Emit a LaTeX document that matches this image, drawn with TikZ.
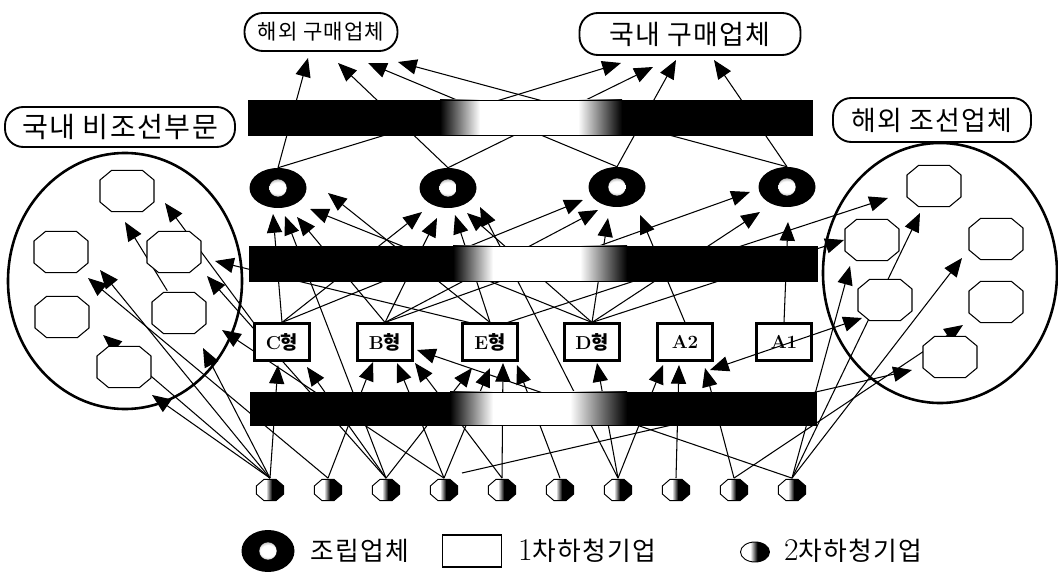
\documentclass[tikz,border=0pt]{standalone}
\usepackage{fontspec}
\newfontfamily\kr{Noto Sans CJK KR}
\newfontfamily\krw[LetterSpace=5]{Noto Sans CJK KR}
\usetikzlibrary{shapes.geometric,arrows.meta,calc}
\pgfdeclarelayer{bg}
\pgfdeclarelayer{lines}
\pgfdeclarelayer{bars}
\pgfsetlayers{bg,lines,bars,main}
\pgfdeclareradialshading{glow}{\pgfpointorigin}{color(0bp)=(white); color(7bp)=(white); color(22bp)=(black); color(50bp)=(black)}

\tikzset{
  bighead/.tip={Triangle[length=16pt,width=13pt]},
  conn/.style={line width=0.9pt,-bighead},
  twoway/.style={line width=0.9pt,bighead-bighead},
  asm/.style={ellipse,fill=black,inner sep=0pt,minimum width=1.71cm,minimum height=1.2cm,
    path picture={\shade[shading=glow] (path picture bounding box.center) circle (0.26cm);}},
  tierone/.style={draw,line width=1.8pt,fill=white,inner sep=0pt,minimum width=1.65cm,minimum height=1.11cm,
    font=\fontsize{16}{18}\selectfont\bfseries},
  % small octagon, white on the left and dark on the right
  tiertwo/.style={inner sep=0pt,minimum width=0.88cm,minimum height=0.7cm,
    path picture={
      \begin{scope}[shift={(path picture bounding box.center)}]
        \begin{scope}
          \clip (-0.18cm,0.32cm) -- (0.18cm,0.32cm) -- (0.41cm,0.12cm) -- (0.41cm,-0.12cm) -- (0.18cm,-0.32cm)
            -- (-0.18cm,-0.32cm) -- (-0.41cm,-0.12cm) -- (-0.41cm,0.12cm) -- cycle;
          \fill[white] (-0.45cm,-0.35cm) rectangle (0.45cm,0.35cm);
          \fill[black] (0.06cm,-0.35cm) rectangle (0.45cm,0.35cm);
          \shade[left color=white,right color=black] (-0.12cm,-0.35cm) rectangle (0.06cm,0.35cm);
        \end{scope}
        \draw[line width=0.8pt] (-0.18cm,0.32cm) -- (0.18cm,0.32cm) -- (0.41cm,0.12cm) -- (0.41cm,-0.12cm) -- (0.18cm,-0.32cm)
            -- (-0.18cm,-0.32cm) -- (-0.41cm,-0.12cm) -- (-0.41cm,0.12cm) -- cycle;
      \end{scope}}},
  % octagon member of a sector group
  oct/.style={inner sep=0pt,minimum width=1.7cm,minimum height=1.32cm,
    path picture={
      \draw[line width=0.9pt,fill=white,shift={(path picture bounding box.center)}]
        (-0.46cm,0.62cm) -- (0.46cm,0.62cm) -- (0.81cm,0.33cm) -- (0.81cm,-0.33cm) -- (0.46cm,-0.62cm)
        -- (-0.46cm,-0.62cm) -- (-0.81cm,-0.33cm) -- (-0.81cm,0.33cm) -- cycle;}},
  group/.style={ellipse,draw,line width=2.2pt,inner sep=0pt},
  tag/.style={draw,line width=1.6pt,rounded corners=0.55cm,fill=white,inner sep=0pt},
  legendtext/.style={anchor=west,font=\krw\fontsize{22}{25}\selectfont},
}

\newcommand{\gradbar}[8]{%
  \fill[black] (#1,#3) rectangle (#5,#4);
  \shade[left color=black,right color=white] (#5,#3) rectangle (#6,#4);
  \fill[white] (#6,#3) rectangle (#7,#4);
  \shade[left color=white,right color=black] (#7,#3) rectangle (#8,#4);
  \fill[black] (#8,#3) rectangle (#2,#4);
  \draw[line width=0.8pt] (#1,#3) rectangle (#2,#4);}
\newcommand{\bigdigit}[1]{{\rmfamily\fontsize{27}{28}\selectfont #1}}

\begin{document}
\begin{tikzpicture}[x=0.03cm,y=-0.03cm]
\begin{pgfonlayer}{bg}
  \fill[white] (0,0) rectangle (1058,572);
\end{pgfonlayer}
\useasboundingbox (0,0) rectangle (1058,572);

% buyers and sector labels
\node[tag,minimum width=4.59cm,minimum height=1.14cm,font=\krw\fontsize{18}{21}\selectfont] (hb) at (321,32) {해외 구매업체};
\node[tag,minimum width=6.63cm,minimum height=1.26cm,font=\krw\fontsize{23}{26}\selectfont] (kb) at (690,34) {국내 구매업체};

% sector groups
\node[group,minimum width=7.02cm,minimum height=7.68cm] (lc) at (125,281) {};
\node[group,minimum width=7.02cm,minimum height=7.8cm] (rc) at (940,273) {};
\node[tag,minimum width=6.9cm,minimum height=1.2cm,font=\krw\fontsize{24}{27}\selectfont] (ld) at (120,127) {국내 비조선부문};
\node[tag,minimum width=5.94cm,minimum height=1.32cm,font=\krw\fontsize{23}{26}\selectfont] (rd) at (932,120) {해외 조선업체};

\node[oct] (l1) at (127,191) {};
\node[oct] (l2) at (61,252) {};
\node[oct] (l3) at (174,252) {};
\node[oct] (l4) at (62,317) {};
\node[oct] (l5) at (179,313) {};
\node[oct] (l6) at (124,367) {};

\node[oct] (r1) at (934,186) {};
\node[oct] (r2) at (872,240) {};
\node[oct] (r3) at (996,239) {};
\node[oct] (r4) at (885,300) {};
\node[oct] (r5) at (996,302) {};
\node[oct] (r6) at (950,357) {};

% assemblers
\node[asm] (e1) at (278,188) {};
\node[asm] (e2) at (448,188) {};
\node[asm] (e3) at (617,187) {};
\node[asm] (e4) at (787,187) {};

% first-tier suppliers
\node[tierone] (c)  at (282,342) {C{\kr 형}};
\node[tierone] (b)  at (385,342) {B{\kr 형}};
\node[tierone] (eb) at (490,342) {E{\kr 형}};
\node[tierone] (d)  at (592,342) {D{\kr 형}};
\node[tierone] (a2) at (685,342) {A2};
\node[tierone] (a1) at (784,342) {A1};

% second-tier suppliers
\foreach \i in {1,...,10}
  \node[tiertwo] (n\i) at ({270+58*(\i-1)},490) {};

\coordinate (f1) at (462,473);

% connectors
\begin{pgfonlayer}{lines}
  % assemblers to buyers
  \draw[conn] (e1.north) -- ($(hb)+(-13,26)$);
  \draw[conn] (e2.north) -- ($(hb)+(17,31)$);
  \draw[conn] (e3.north) -- ($(hb)+(47,31)$);
  \draw[conn] (e4.north) -- ($(hb)+(77,30)$);
  \draw[conn] (e1.north) -- ($(kb)+(-69,29)$);
  \draw[conn] (e2.north) -- ($(kb)+(-37,33)$);
  \draw[conn] (e3.north) -- ($(kb)+(-14,26)$);
  \draw[conn] (e4.north) -- ($(kb)+(24,26)$);
  % first tier to assemblers
  \draw[conn] (c.north)  -- ($(e1)+(-5,26)$);
  \draw[conn] (n3.north) -- ($(e1)+(7,28)$);
  \draw[conn] (b.north)  -- ($(e1)+(19,29)$);
  \draw[conn] (d.north)  -- ($(e1)+(32,21)$);
  \draw[conn] (eb.north) -- ($(e1)+(50,5)$);
  \draw[conn] (c.north)  -- ($(e2)+(-26,24)$);
  \draw[conn] (b.north)  -- ($(e2)+(-11,30)$);
  \draw[conn] (eb.north) -- ($(e2)+(7,27)$);
  \draw[conn] (d.north)  -- ($(e2)+(19,25)$);
  \draw[conn] (n7.north) -- ($(e2)+(32,19)$);
  \draw[conn] (c.north)  -- ($(e3)+(-34,13)$);
  \draw[conn] (b.north)  -- ($(e3)+(-19,23)$);
  \draw[conn] (d.north)  -- ($(e3)+(-9,31)$);
  \draw[conn] (a2.north) -- ($(e3)+(23,28)$);
  \draw[conn] (b.north)  -- ($(e4)+(-37,5)$);
  \draw[conn] (d.north)  -- ($(e4)+(-27,25)$);
  \draw[conn] (a1.north) -- ($(e4)+(1,35)$);
  % domestic non-shipbuilding
  \draw[conn] (c.north west) -- ($(l1)+(38,12)$);
  \draw[conn] ([xshift=-10]l5.north) -- ($(l1)+(-2,31)$);
  \draw[conn] ([xshift=-18]eb.north) -- ($(l3)+(41,9)$);
  \draw[conn] (n3.north) -- ($(l3)+(33,24)$);
  \draw[conn] (n4.north) -- ($(l5)+(43,17)$);
  \draw[conn] (n1.north) -- ($(l5)+(24,35)$);
  \draw[conn] (n2.north) -- ($(l2)+(27,26)$);
  \draw[conn] (n1.north) -- ($(l2)+(39,18)$);
  \draw[conn] (n1.north) -- ($(l4)+(41,18)$);
  \draw[conn] (n1.north) -- ($(l6)+(28,28)$);
  % second tier to first tier
  \draw[conn] (n1.north) -- ($(c)+(-4,23)$);
  \draw[conn] (n3.north) -- ($(c)+(25,25)$);
  \draw[conn] (n2.north) -- ($(b)+(-12,20)$);
  \draw[conn] (n4.north) -- ($(b)+(12,21)$);
  \draw[conn] (n5.north) -- ($(b)+(30,21)$);
  \draw[conn] (n10.north) -- ($(b)+(32,8)$);
  \draw[conn] (n3.north) -- ($(eb)+(-18,26)$);
  \draw[conn] (n4.north) -- ($(eb)+(0,26)$);
  \draw[conn] (n5.north) -- ($(eb)+(13,21)$);
  \draw[conn] (n6.north) -- ($(eb)+(27,23)$);
  \draw[conn] (n7.north) -- ($(d)+(5,21)$);
  \draw[conn] (n7.north) -- ($(a2)+(-22,23)$);
  \draw[conn] (n8.north) -- ($(a2)+(-6,23)$);
  \draw[conn] (n9.north) -- ($(a2)+(20,26)$);
  % overseas shipbuilders
  \draw[conn] ([xshift=15]eb.north) -- ($(r1)+(-46,12)$);
  \draw[conn] (d.north) -- ($(r2)+(-28,0)$);
  \draw[conn] (n10.north) -- ($(r1)+(-14,27)$);
  \draw[conn] (n10.north) -- ($(r2)+(-22,26)$);
  \draw[conn] (n10.north) -- ($(r3)+(-34,19)$);
  \draw[conn] (n9.north) -- ($(r5)+(-33,23)$);
  \draw[conn] (f1) -- ($(r6)+(-38,13)$);
\end{pgfonlayer}

% shaded bands
\begin{pgfonlayer}{bars}
  \gradbar{248}{812}{100}{135}{440}{480}{578}{622}
  \gradbar{249}{817}{246}{281}{453}{493}{580}{627}
  \gradbar{250}{816}{392}{425}{450}{493}{570}{627}
\end{pgfonlayer}

\draw[twoway] ($(a2)+(25,28)$) -- ($(r4)+(-23,18)$);

% legend
\node[asm,minimum width=1.59cm,minimum height=1.26cm] (lg1) at (268,551) {};
\node[legendtext] (lg1t) at (306,551) {조립업체};
\node[draw,line width=1.6pt,minimum width=1.77cm,minimum height=0.96cm,inner sep=0pt] (lg2) at (472,551) {};
\node[legendtext] (lg2t) at (514,551) {\bigdigit{1}\krw 차하청기업};
\node[ellipse,draw,line width=0.8pt,inner sep=0pt,minimum width=0.87cm,minimum height=0.6cm,
  path picture={\fill[white] (path picture bounding box.south west) rectangle (path picture bounding box.north east);
    \fill[black] ([xshift=2pt]path picture bounding box.south) rectangle (path picture bounding box.north east);
    \shade[left color=white,right color=black] ([xshift=-4pt]path picture bounding box.south) rectangle ([xshift=2pt]path picture bounding box.north);}] (lg3) at (755,552) {};
\node[legendtext] (lg3t) at (780,551) {\bigdigit{2}\krw 차하청기업};
\end{tikzpicture}
\end{document}
